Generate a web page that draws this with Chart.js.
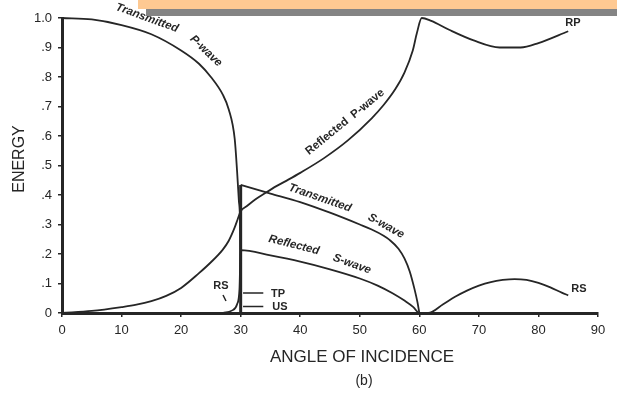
<!DOCTYPE html>
<html>
<head>
<meta charset="utf-8">
<script src="https://cdn.jsdelivr.net/npm/chart.js@4.4.1/dist/chart.umd.min.js"></script>
<style>
  html, body { margin: 0; padding: 0; background: #fff; }
  #wrap { position: relative; width: 617px; height: 393px; overflow: hidden; }
  #barOrange { position: absolute; left: 138px; top: 0; width: 479px; height: 9px; background: #fec992; }
  #barGray { position: absolute; left: 146px; top: 9px; width: 471px; height: 7px; background: #848484; }
  canvas { position: absolute; left: 0; top: 0; }
</style>
</head>
<body>
<div id="wrap">
  <canvas id="chart" width="617" height="393"></canvas>
  <div id="barOrange"></div>
  <div id="barGray"></div>
</div>
<script>
// values (angle in degrees, energy 0..1)
const tpAngle  = [0, 5, 10, 15, 20, 23, 25, 27, 28, 29, 29.4, 29.7, 29.9, 30];
const tpEnergy = [1.0, 0.995, 0.976, 0.945, 0.89, 0.845, 0.80, 0.74, 0.69, 0.59, 0.48, 0.38, 0.30, 0.06];

const rpAngle  = [0, 5, 10, 12.5, 15, 17.5, 20, 23, 25, 27, 28, 29, 29.5, 30, 31, 32, 33, 34, 36, 38, 40, 44, 48, 52, 54, 56, 57.5, 58.9, 59.6, 60.4, 62, 65, 69, 73.5, 77, 80, 85];
const rpEnergy = [0, 0.007, 0.02, 0.028, 0.04, 0.058, 0.085, 0.135, 0.172, 0.215, 0.245, 0.29, 0.318, 0.345, 0.362, 0.378, 0.392, 0.405, 0.43, 0.452, 0.475, 0.525, 0.585, 0.66, 0.705, 0.76, 0.815, 0.89, 0.95, 1.0, 0.99, 0.96, 0.925, 0.90, 0.90, 0.915, 0.955];

const tsAngle  = [30, 35, 40, 45, 50, 52, 54, 55, 56.5, 57.5, 58.4, 59.2, 59.7, 60];
const tsEnergy = [0.434, 0.405, 0.376, 0.34, 0.30, 0.283, 0.262, 0.248, 0.218, 0.185, 0.14, 0.08, 0.035, 0];

const rsAngle  = [27, 28.5, 29.4, 29.8, 30, 35, 40, 45, 50, 53, 55.5, 57.5, 59, 60, 61.5, 64, 66, 68, 70, 72, 74, 76, 78, 80, 82, 84, 85];
const rsEnergy = [0, 0.008, 0.03, 0.08, 0.213, 0.195, 0.174, 0.148, 0.117, 0.093, 0.067, 0.042, 0.02, 0, 0, 0.03, 0.055, 0.076, 0.093, 0.105, 0.112, 0.115, 0.112, 0.102, 0.087, 0.068, 0.06];

// thick vertical at the critical angle
const critAngle  = [30, 30];
const critEnergy = [0, 0.434];

const xTicks = [0, 10, 20, 30, 40, 50, 60, 70, 80, 90];
const yTicks = [0, 0.1, 0.2, 0.3, 0.4, 0.5, 0.6, 0.7, 0.8, 0.9, 1.0];
const yTickLabels = ['0', '.1', '.2', '.3', '.4', '.5', '.6', '.7', '.8', '.9', '1.0'];

const INK = '#262626';
const FONT = '"Liberation Sans", Arial, sans-serif';

function pts(xs, ys) { return xs.map((x, i) => ({ x: x, y: ys[i] })); }

function line(data, width, tension) {
  return {
    data: data,
    borderColor: INK,
    borderWidth: width,
    pointRadius: 0,
    fill: false,
    clip: false,
    tension: tension || 0,
    cubicInterpolationMode: tension ? 'monotone' : 'default'
  };
}

const labelsPlugin = {
  id: 'curveLabels',
  afterDraw(chart) {
    const ctx = chart.ctx;
    const sx = chart.scales.x, sy = chart.scales.y;
    const X = v => sx.getPixelForValue(v);
    const Y = v => sy.getPixelForValue(v);

    const text = (str, x, y, angle, font, align) => {
      ctx.save();
      ctx.translate(x, y);
      ctx.rotate(angle * Math.PI / 180);
      ctx.font = font;
      ctx.fillStyle = INK;
      ctx.textAlign = align || 'center';
      ctx.textBaseline = 'middle';
      ctx.fillText(str, 0, 0);
      ctx.restore();
    };

    const it = 'italic bold 11.5px ' + FONT;
    text('Transmitted', 147, 18, 20, it);
    text('P-wave', 206, 51, 44, it);
    text('Reflected  P-wave', 345, 122, -39, 'bold 11.5px ' + FONT);
    text('Transmitted', 320, 198, 19, it);
    text('S-wave', 386, 226, 29, it);
    text('Reflected', 294, 245, 14, it);
    text('S-wave', 352, 264, 20, it);

    const small = 'bold 11px ' + FONT;
    text('RP', 573, 23, 0, small);
    text('RS', 579, 289, 0, small);
    text('RS', 221, 286, 0, small);
    text('TP', 278, 294, 0, small);
    text('US', 280, 307, 0, small);

    ctx.save();
    ctx.strokeStyle = INK;
    ctx.lineWidth = 1.5;
    ctx.beginPath();
    // small leader under left RS
    ctx.moveTo(223, 295); ctx.lineTo(226, 301);
    // TP and US pointers to the critical angle
    ctx.moveTo(X(30.4), Y(0.068)); ctx.lineTo(X(33.8), Y(0.068));
    ctx.moveTo(X(30.4), Y(0.022)); ctx.lineTo(X(33.8), Y(0.022));
    ctx.stroke();
    ctx.restore();

    // axis titles
    text('ENERGY', 20, 159, -90, '16px ' + FONT);
    text('ANGLE OF INCIDENCE', 362, 357, 0, '17px ' + FONT);
    text('(b)', 364, 381, 0, '14px ' + FONT);
  }
};

new Chart(document.getElementById('chart'), {
  type: 'line',
  data: {
    datasets: [
      line(pts(tpAngle, tpEnergy), 1.8, 0.4),
      line(pts(rpAngle, rpEnergy), 1.8, 0.4),
      line(pts(tsAngle, tsEnergy), 1.8, 0.4),
      line(pts(rsAngle, rsEnergy), 1.8, 0.4),
      line(pts(critAngle, critEnergy), 3, 0)
    ]
  },
  options: {
    responsive: false,
    animation: false,
    devicePixelRatio: 1,
    layout: { padding: { left: 0, right: 19, top: 18, bottom: 0 } },
    plugins: { legend: { display: false }, tooltip: { enabled: false } },
    scales: {
      x: {
        type: 'linear',
        min: 0,
        max: 90,
        afterFit: s => { s.height = 80; },
        afterBuildTicks: s => { s.ticks = xTicks.map(v => ({ value: v })); },
        border: { color: INK, width: 3 },
        grid: { drawOnChartArea: false, color: INK, tickLength: 4, lineWidth: 1.5 },
        ticks: { color: INK, padding: 6, font: { family: FONT, size: 13 }, maxRotation: 0 }
      },
      y: {
        type: 'linear',
        min: 0,
        max: 1,
        afterFit: s => { s.width = 62; },
        afterBuildTicks: s => { s.ticks = yTicks.map(v => ({ value: v })); },
        border: { color: INK, width: 3 },
        grid: { drawOnChartArea: false, color: INK, tickLength: 4, lineWidth: 1.5 },
        ticks: {
          color: INK,
          padding: 6,
          font: { family: FONT, size: 13 },
          callback: (v) => yTickLabels[yTicks.findIndex(t => Math.abs(t - v) < 1e-6)]
        }
      }
    }
  },
  plugins: [labelsPlugin]
});
</script>
</body>
</html>
